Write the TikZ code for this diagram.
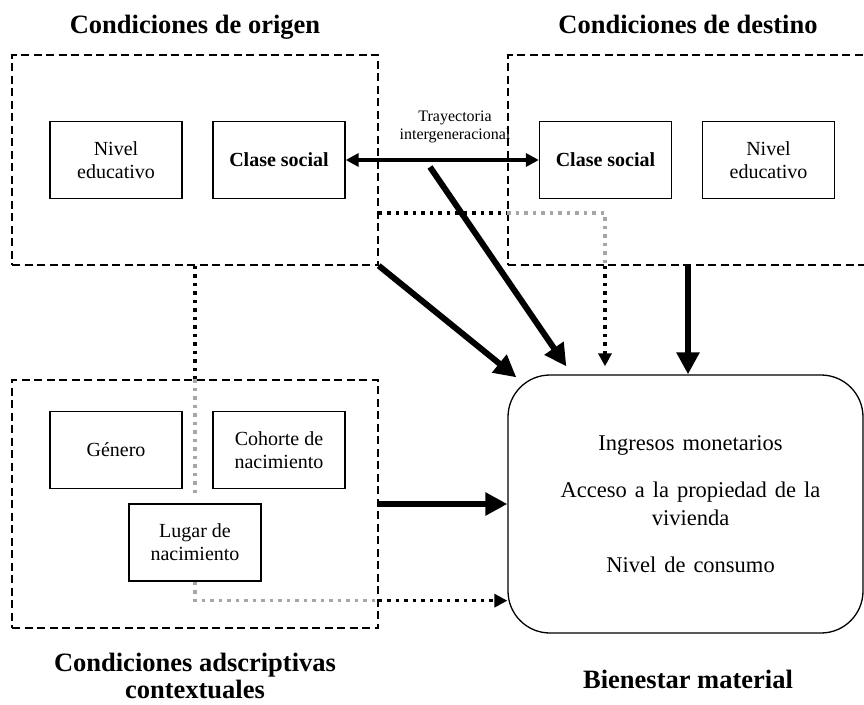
\documentclass[tikz,border=0pt]{standalone}
\usepackage{fontspec}
\setmainfont{Liberation Serif}
\usepackage{xcolor}
\usepackage{tikz}
\usetikzlibrary{arrows.meta,calc}
\definecolor{inkmain}{HTML}{000000}
\definecolor{graydot}{HTML}{A6A6A6}
\newcommand\widespace{\spaceskip=8pt\relax}
\tikzset{
  dashbox/.style={draw=inkmain,line width=1.4pt,dash pattern=on 8pt off 4.5pt,minimum width=366pt,inner sep=0pt},
  itembox/.style={draw=inkmain,line width=1.3pt,minimum width=132pt,minimum height=77pt,inner sep=0pt,align=center,font=\fontsize{20}{23}\selectfont},
  heading/.style={font=\fontsize{26.5}{28}\selectfont\bfseries,align=center},
  bigarrow/.style={-{Triangle[length=22pt,width=22pt]},line width=6pt},
  dotline/.style={line width=3.5pt,dash pattern=on 3.5pt off 5pt},
  dottip/.style={-{Triangle[length=13pt,width=13pt]}},
}

\begin{document}
\begin{tikzpicture}[x=1pt,y=-1pt]
  \clip (0,0) rectangle (864,704);
  \node[dashbox,minimum height=210pt] (orig) at (195,160) {};
  \node[dashbox,minimum height=210pt] (dest) at (691,160) {};
  \node[dashbox,minimum height=248pt] (ctx) at (195,504) {};
  \node[draw=inkmain,line width=1.3pt,rounded corners=42pt,minimum width=355pt,minimum height=258pt] (bien) at (685.5,504) {};

  \node[heading,anchor=base] (tOrig) at (195,33) {Condiciones de origen};
  \node[heading,anchor=base] (tDest) at (688,33) {Condiciones de destino};
  \node[heading,inner sep=0pt,font=\fontsize{26.5}{27}\selectfont\bfseries] (tCtx) at (195,676) {Condiciones adscriptivas\\contextuales};
  \node[heading,anchor=base] (tBien) at (688,688) {Bienestar material};

  \node[itembox] (nivO) at (116,160) {Nivel\\educativo};
  \node[itembox,font=\fontsize{20}{23}\selectfont\bfseries] (claseO) at (279,160) {Clase social};
  \node[itembox,font=\fontsize{20}{23}\selectfont\bfseries] (claseD) at (605.5,160) {Clase social};
  \node[itembox] (nivD) at (768.5,160) {Nivel\\educativo};
  \node[itembox] (gen) at (116,450) {Género};
  \node[itembox] (coh) at (279,450) {Cohorte de\\nacimiento};
  \node[itembox] (lug) at (195,542.5) {Lugar de\\nacimiento};

  \node[align=center,font=\fontsize{16}{18}\selectfont] (tray) at (455,127) {Trayectoria\\intergeneracional};
  \node[align=center,font=\fontsize{22.5}{28}\selectfont\widespace] (bienTxt) at ([xshift=5pt]bien.center)
    {Ingresos monetarios\\[19pt]Acceso a la propiedad de la\\vivienda\\[19pt]Nivel de consumo};

  \coordinate (trayA) at (430,167);
  \coordinate (topA) at ([yshift=-53pt]orig.east);
  \coordinate (topB) at (605,213);
  \coordinate (botA) at ($(lug.south)+(0,19)$);

  \draw[{Triangle[length=13pt,width=13pt]}-{Triangle[length=13pt,width=13pt]},line width=4pt] (claseO) -- (claseD);
  \draw[bigarrow] (trayA) -- ([xshift=59pt,yshift=8pt]bien.north west);
  \draw[bigarrow] (orig.south east) -- ([xshift=9pt,yshift=-3pt]bien.north west);
  \draw[bigarrow] ([xshift=-3pt]dest.south) -- ([xshift=-3pt]dest.south |- bien.north);
  \draw[bigarrow] (ctx.east) -- (ctx.east -| bien.west);

  \draw[dotline] (topA) -- (topA -| dest.west);
  \draw[dotline,graydot] (topA -| dest.west) -- (topB) -- (topB |- dest.south);
  \draw[dotline,dottip] (topB |- dest.south) -- ($(topB |- bien.north)+(0,-8)$);

  \draw[dotline] (orig.south) -- (orig.south |- ctx.north);
  \draw[dotline,graydot] (orig.south |- ctx.north) -- ($(lug.north)+(0,-9)$);

  \draw[dotline,graydot] (lug.south) -- (botA) -- (botA -| ctx.east);
  \draw[dotline,dottip] (botA -| ctx.east) -- (botA -| bien.west);
\end{tikzpicture}
\end{document}
